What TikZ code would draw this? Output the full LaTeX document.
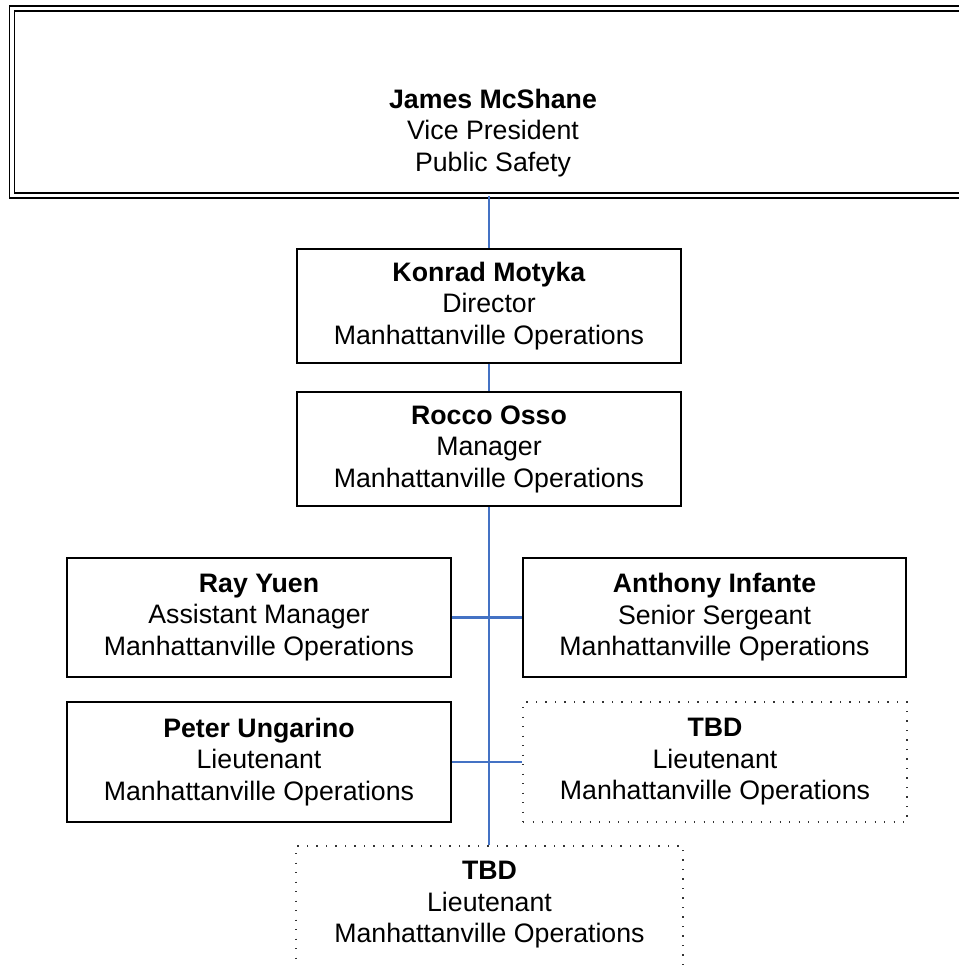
\documentclass[tikz,border=0pt]{standalone}
\usepackage{fontspec}
\setmainfont{Liberation Sans}
\definecolor{connblue}{HTML}{4472C4}
\begin{document}
\begin{tikzpicture}[x=1pt,y=-1pt,
  every node/.style={font=\fontsize{26.7}{31.5}\selectfont, align=center, inner sep=0pt},
  box/.style={draw=black, line width=2pt, rectangle, minimum width=384pt, minimum height=119pt},
  dotbox/.style={draw=black!80, line width=1.4pt, dash pattern=on 1.3pt off 8.2pt, rectangle, minimum width=384pt, minimum height=120pt},
  vpbox/.style={draw=black, double=white, double distance=3.2pt, line width=1.8pt, rectangle, minimum width=960pt, minimum height=187pt},
  conn/.style={draw=connblue, line width=1.3pt},
  mainconn/.style={draw=connblue, line width=2.2pt}
]
\useasboundingbox (0,0) rectangle (958,965);

\node[vpbox] (vp) at (492,102) {};
\node (vptext) at (493,133) {\textbf{James McShane}\\Vice President\\Public Safety};

\node[box, minimum height=113pt] (konrad) at (489,306) {\textbf{Konrad Motyka}\\Director\\Manhattanville Operations};
\node[box, minimum height=114pt] (rocco) at (489,449) {\textbf{Rocco Osso}\\Manager\\Manhattanville Operations};
\node[box] (ray) at (259,617.5) {\textbf{Ray Yuen}\\Assistant Manager\\Manhattanville Operations};
\node[box, minimum width=383pt] (anthony) at (714.5,617.5) {\textbf{Anthony Infante}\\Senior Sergeant\\Manhattanville Operations};
\node[box, minimum height=120pt] (peter) at (259,762) {\textbf{Peter Ungarino}\\Lieutenant\\Manhattanville Operations};
\node[dotbox] (tbdr) at (715,762) {\textbf{TBD}\\Lieutenant\\Manhattanville Operations};
\node[dotbox, minimum width=387pt, minimum height=150pt] (tbdb) at (489.5,921) {};
\node (tbdbtext) at (489.5,905) {\textbf{TBD}\\Lieutenant\\Manhattanville Operations};

\draw[conn] (vp.south -| konrad.north) -- (konrad.north);
\draw[conn] (konrad.south) -- (rocco.north);
\draw[mainconn] (rocco.south) -- (rocco.south |- tbdb.north);
\draw[mainconn] (ray.east) -- (anthony.west);
\draw[mainconn] (peter.east) -- (tbdr.west);
\end{tikzpicture}
\end{document}
